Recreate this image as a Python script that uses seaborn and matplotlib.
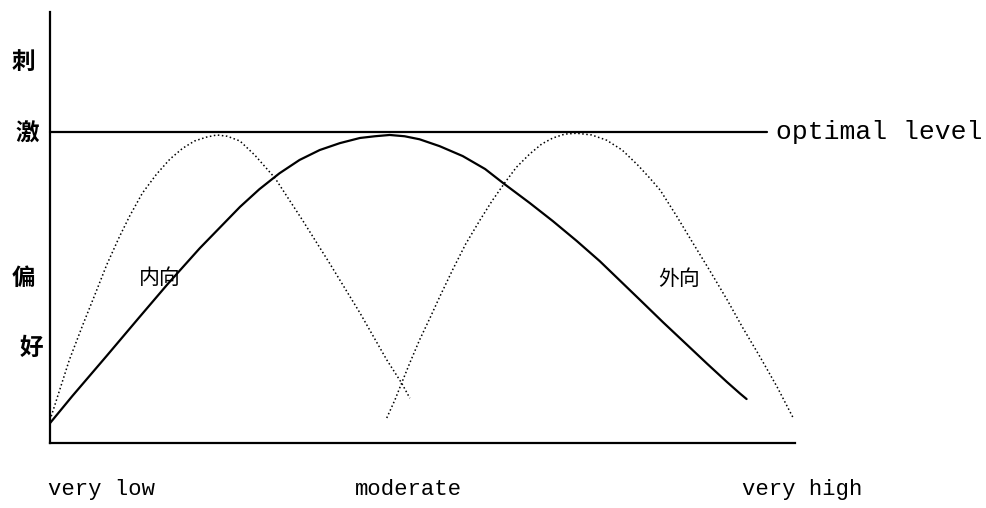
import pandas as pd
import matplotlib.pyplot as plt
import seaborn as sns

# Kurva preferensi stimulasi (skala 0-100)
solid_x = [0, 3.0, 7.6, 12.0, 15.8, 20.1, 25.5, 28.1, 30.8, 33.5, 36.2, 38.9,
           41.6, 43.6, 45.6, 47.6, 49.6, 52.3, 55.4, 58.4, 61.0, 64.4, 67.5,
           70.7, 73.8, 76.5, 79.2, 82.3, 85.5, 88.2, 90.9, 92.6, 93.5]
solid_y = [4.6, 10.9, 20.2, 29.2, 36.9, 45.2, 54.8, 58.9, 62.6, 65.7, 68.0, 69.6,
           70.8, 71.2, 71.5, 71.2, 70.5, 68.9, 66.6, 63.6, 60.1, 55.7, 51.5,
           46.9, 42.2, 37.7, 33.2, 28.0, 22.8, 18.4, 14.1, 11.5, 10.2]

intro_x = [0, 1.3, 2.6, 4.4, 6.0, 7.6, 9.3, 10.7, 12.4, 14.3, 16.1, 17.8, 19.4,
           21.0, 22.4, 23.8, 25.5, 27.5, 30.2, 33.9, 37.5, 41.6, 45.2, 47.2, 48.3]
intro_y = [5.3, 12.3, 19.3, 27.4, 34.3, 41.3, 47.8, 52.7, 58.0, 62.4, 65.9, 68.4,
           70.1, 71.0, 71.5, 71.2, 70.1, 66.8, 61.5, 51.7, 41.8, 30.2, 19.3, 13.9,
           10.4]

extro_x = [45.2, 46.3, 47.2, 48.3, 49.6, 51.0, 52.3, 54.1, 55.8, 57.7, 59.3, 61.0,
           62.6, 64.4, 66.0, 67.5, 69.1, 70.7, 72.7, 74.7, 76.8, 78.9, 80.5, 81.9,
           84.1, 86.3, 88.6, 90.9, 93.0, 95.3, 97.6, 99.7]
extro_y = [5.8, 10.0, 13.9, 18.6, 23.9, 29.0, 33.9, 40.4, 46.2, 51.7, 56.1, 60.3,
           64.0, 67.1, 69.4, 70.8, 71.7, 71.9, 71.5, 70.3, 68.0, 64.5, 61.5, 58.7,
           52.7, 46.4, 39.9, 33.2, 26.7, 20.0, 13.0, 6.0]

optimal_y = 72.2
optimal_end = 96.2

y_labels = ["刺", "激", "偏", "好"]
y_label_x = [-3.6, -3.0, -3.6, -2.5]
y_label_y = [88.4, 71.9, 38.3, 22.0]

x_labels = ["very low", "moderate", "very high"]
x_label_x = [-0.3, 40.9, 92.9]

df_solid = pd.DataFrame({"x": solid_x, "y": solid_y})
df_intro = pd.DataFrame({"x": intro_x, "y": intro_y})
df_extro = pd.DataFrame({"x": extro_x, "y": extro_y})

sns.set_theme(style="white")
plt.rcParams['font.family'] = ['Noto Sans CJK SC', 'DejaVu Sans']
plt.rcParams['text.color'] = 'black'

fig = plt.figure(figsize=(9.86, 5.08), dpi=100)
ax = fig.add_axes([0.0507, 0.128, 0.7556, 0.848])

sns.lineplot(data=df_solid, x="x", y="y", sort=False, estimator=None,
             color="black", linewidth=1.6, ax=ax)
sns.lineplot(data=df_intro, x="x", y="y", sort=False, estimator=None,
             color="black", linewidth=1.1, linestyle=":", ax=ax)
sns.lineplot(data=df_extro, x="x", y="y", sort=False, estimator=None,
             color="black", linewidth=1.1, linestyle=":", ax=ax)

# garis level optimal
ax.plot([0, optimal_end], [optimal_y, optimal_y], color="black", linewidth=1.6,
        clip_on=False)
ax.text(97.4, optimal_y, "optimal level", fontsize=19, family="Liberation Mono",
        ha="left", va="center", clip_on=False)

ax.set_xlim(0, 100)
ax.set_ylim(0, 100)
ax.set_xticks([])
ax.set_yticks([])
ax.set_xlabel("")
ax.set_ylabel("")
sns.despine(ax=ax)
for s in ["left", "bottom"]:
    ax.spines[s].set_color("black")
    ax.spines[s].set_linewidth(1.6)

for lab, lx, ly in zip(y_labels, y_label_x, y_label_y):
    ax.text(lx, ly, lab, fontsize=17, fontweight="bold", ha="center", va="center",
            clip_on=False)

for lab, lx in zip(x_labels, x_label_x):
    ax.text(lx, -10.9, lab, fontsize=16, family="Liberation Mono", ha="left",
            va="center", clip_on=False)

ax.text(14.7, 38.3, "内向", fontsize=15, ha="center", va="center")
ax.text(84.4, 38.1, "外向", fontsize=15, ha="center", va="center")

fig.savefig("out.png", dpi=100)
